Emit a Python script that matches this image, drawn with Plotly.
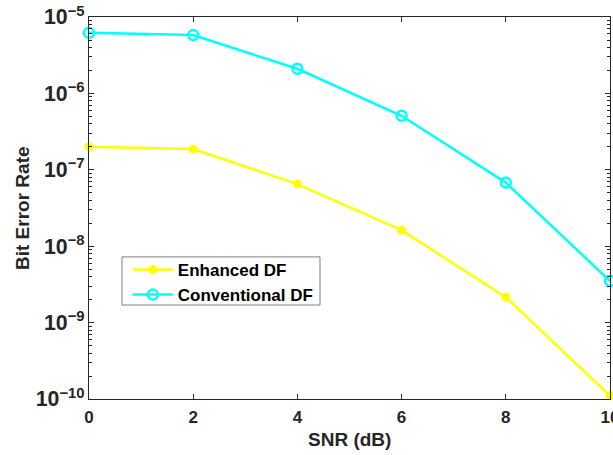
import plotly.graph_objects as go

snr = [0, 2, 4, 6, 8, 10]
enhanced_df = [2.0e-7, 1.87e-7, 6.5e-8, 1.62e-8, 2.15e-9, 1.1e-10]
conventional_df = [6.2e-6, 5.8e-6, 2.1e-6, 5.1e-7, 6.8e-8, 3.5e-9]
x_ticks = [0, 2, 4, 6, 8, 10]

FONT = "Liberation Sans, Arial, sans-serif"
DARK = "#262626"

fig = go.Figure()
fig.add_trace(go.Scatter(
    x=snr, y=enhanced_df, name="Enhanced DF", mode="lines+markers",
    line=dict(color="#FFFF00", width=2.5),
    marker=dict(symbol="circle", size=9, color="#FFFF00"),
    cliponaxis=False,
))
fig.add_trace(go.Scatter(
    x=snr, y=conventional_df, name="Conventional DF", mode="lines+markers",
    line=dict(color="#00FFFF", width=2.5),
    marker=dict(symbol="circle-open", size=10, color="#00FFFF", line=dict(width=2.5)),
    cliponaxis=False,
))

fig.update_layout(
    width=613, height=455,
    margin=dict(l=89, r=3, t=17, b=56),
    paper_bgcolor="white", plot_bgcolor="white",
    font=dict(family=FONT, color=DARK),
    showlegend=True,
    legend=dict(
        x=0.0745, y=0.385, xanchor="left", yanchor="top",
        bgcolor="rgba(0,0,0,0)", borderwidth=0,
        font=dict(family=FONT, size=17, color="black", weight="bold"),
        itemwidth=40, tracegroupgap=0,
    ),
    shapes=[
        dict(type="rect", xref="paper", yref="paper",
             x0=0.0633, x1=0.4434, y0=0.246, y1=0.372,
             line=dict(color="#7f7f7f", width=1), fillcolor="white", layer="below"),
    ],
    xaxis=dict(
        range=[0, 10], tickvals=x_ticks, ticktext=[str(v) for v in x_ticks],
        ticks="inside", ticklen=5, tickcolor=DARK,
        showline=True, linecolor=DARK, linewidth=1, mirror="ticks",
        showgrid=False, zeroline=False, automargin=False,
        ticklabeloverflow="allow", ticklabelstandoff=3,
        tickfont=dict(family=FONT, size=17, color=DARK, weight="bold"),
    ),
    yaxis=dict(
        type="log", range=[-10, -5], dtick=1,
        exponentformat="power",
        ticks="inside", ticklen=5, tickcolor=DARK,
        minor=dict(ticks="inside", ticklen=3, dtick="D1", tickcolor=DARK, showgrid=False),
        showline=True, linecolor=DARK, linewidth=1, mirror="ticks",
        showgrid=False, zeroline=False, automargin=False,
        ticklabeloverflow="allow",
        tickfont=dict(family=FONT, size=17, color=DARK, weight="bold"),
    ),
    annotations=[
        dict(text="SNR (dB)", xref="paper", yref="paper", x=0.5, y=-0.107,
             xanchor="center", yanchor="middle", showarrow=False,
             font=dict(family=FONT, size=19, color=DARK, weight="bold")),
        dict(text="Bit Error Rate", xref="paper", yref="paper", x=-0.1286, y=0.5,
             xanchor="center", yanchor="middle", showarrow=False, textangle=-90,
             font=dict(family=FONT, size=19, color=DARK, weight="bold")),
    ],
)

fig.write_html(
    "out.html",
    config={"displayModeBar": False},
    post_script="document.body.style.margin='0';document.body.style.overflow='hidden';",
)
